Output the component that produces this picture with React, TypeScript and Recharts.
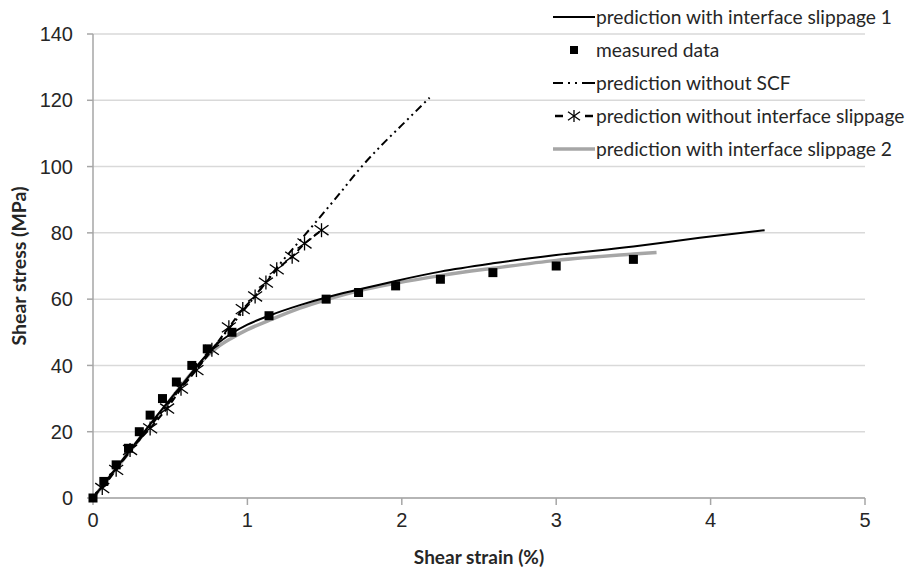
import { CartesianGrid, ComposedChart, Legend, Line, Scatter, XAxis, YAxis } from 'recharts';

const xTicks = [0, 1, 2, 3, 4, 5];
const yTicks = [0, 20, 40, 60, 80, 100, 120, 140];

// measured data (squares)
const measuredX = [0, 0.07, 0.15, 0.23, 0.3, 0.37, 0.45, 0.54, 0.64, 0.74, 0.9, 1.14, 1.51, 1.72, 1.96, 2.25, 2.59, 3.0, 3.5];
const measuredY = [0, 5, 10, 15, 20, 25, 30, 35, 40, 45, 50, 55, 60, 62, 64, 66, 68, 70, 72];

// prediction with interface slippage 1 (black)
const slip1X = [0, 0.2, 0.4, 0.6, 0.7, 0.8, 0.9, 1.0, 1.14, 1.34, 1.51, 1.72, 1.96, 2.25, 2.59, 3.0, 3.5, 3.93, 4.35];
const slip1Y = [0, 12, 24, 35.5, 41.3, 46.3, 49.7, 52.3, 55, 58.2, 60.5, 62.9, 65.5, 68.3, 70.8, 73.3, 75.9, 78.5, 80.8];

// prediction with interface slippage 2 (grey)
const slip2X = [0, 0.2, 0.4, 0.6, 0.7, 0.8, 0.9, 1.0, 1.14, 1.34, 1.51, 1.72, 1.96, 2.25, 2.59, 3.0, 3.5, 3.65];
const slip2Y = [0, 11.8, 23.6, 35.5, 41, 45.3, 48.3, 50.8, 53.6, 57.3, 59.8, 62.5, 64.8, 67.1, 69.3, 71.7, 73.6, 74.1];

// prediction without SCF
const noScfX = [0, 0.3, 0.6, 0.8, 1.0, 1.2, 1.42, 1.6, 1.74, 1.87, 2.0, 2.18];
const noScfY = [0, 17.5, 35, 46.5, 58, 70, 82, 92, 100, 106.5, 112.5, 120.8];

// prediction without interface slippage (asterisks)
const noSlipX = [0.06, 0.15, 0.24, 0.37, 0.48, 0.57, 0.67, 0.77, 0.88, 0.97, 1.05, 1.12, 1.19, 1.29, 1.37, 1.48];
const noSlipY = [3, 8.5, 14.5, 21, 27, 33, 38.6, 44.7, 51.5, 57, 60.8, 65, 69, 72.8, 76.8, 80.8];

const zip = (xs: number[], ys: number[]) => xs.map((x, i) => ({ x, y: ys[i] }));

const measured = zip(measuredX, measuredY);
const slip1 = zip(slip1X, slip1Y);
const slip2 = zip(slip2X, slip2Y);
const noScf = zip(noScfX, noScfY);
const noSlip = zip(noSlipX, noSlipY);

const tickStyle = { fill: '#262626', fontSize: 20, fontFamily: 'Liberation Sans, Arial, sans-serif' };
const titleFont = 'Lato, Calibri, sans-serif';
const axisGrey = '#a6a6a6';

function Asterisk({ cx, cy, r = 7 }: { cx: number; cy: number; r?: number }) {
  return (
    <g stroke="#000" strokeWidth={1.3}>
      <line x1={cx - r} y1={cy - r * 0.7} x2={cx + r} y2={cy + r * 0.7} />
      <line x1={cx - r} y1={cy + r * 0.7} x2={cx + r} y2={cy - r * 0.7} />
      <line x1={cx} y1={cy - r} x2={cx} y2={cy + r} />
    </g>
  );
}

const legendRows = [
  { label: 'prediction with interface slippage 1', kind: 'black' },
  { label: 'measured data', kind: 'square' },
  { label: 'prediction without SCF', kind: 'scf' },
  { label: 'prediction without interface slippage', kind: 'star' },
  { label: 'prediction with interface slippage 2', kind: 'grey' },
];

function LegendSample({ kind }: { kind: string }) {
  return (
    <svg width={47} height={20} style={{ flex: 'none' }}>
      {kind === 'black' && <line x1={5} y1={10} x2={47} y2={10} stroke="#000" strokeWidth={2} />}
      {kind === 'grey' && <line x1={5} y1={10} x2={47} y2={10} stroke={axisGrey} strokeWidth={3.5} />}
      {kind === 'square' && <rect x={22} y={6} width={8} height={8} fill="#000" />}
      {kind === 'scf' && (
        <line x1={5} y1={10} x2={47} y2={10} stroke="#000" strokeWidth={2} strokeDasharray="10 5 2 5 2 5 14" />
      )}
      {kind === 'star' && (
        <g>
          <line x1={7} y1={10} x2={15} y2={10} stroke="#000" strokeWidth={2.5} />
          <line x1={37} y1={10} x2={45} y2={10} stroke="#000" strokeWidth={2.5} />
          <Asterisk cx={26} cy={10} r={6} />
        </g>
      )}
    </svg>
  );
}

function LegendBox() {
  return (
    <div style={{ fontFamily: titleFont, fontSize: 19.2, color: '#262626' }}>
      {legendRows.map((row) => (
        <div key={row.label} style={{ display: 'flex', alignItems: 'center', height: 33, whiteSpace: 'nowrap' }}>
          <LegendSample kind={row.kind} />
          <span style={{ marginLeft: 1 }}>{row.label}</span>
        </div>
      ))}
    </div>
  );
}

export default function App() {
  return (
    <div style={{ position: 'absolute', left: 0, top: 0, width: 923, height: 575, background: '#fff' }}>
      <ComposedChart width={923} height={575} margin={{ top: 34, right: 58, bottom: 0, left: 0 }}>
        <CartesianGrid vertical={false} stroke="#d9d9d9" strokeWidth={1.5} />
        <XAxis
          type="number"
          dataKey="x"
          domain={[0, 5]}
          ticks={xTicks}
          height={77}
          stroke={axisGrey}
          strokeWidth={1.5}
          tickSize={7}
          tickMargin={8}
          tick={tickStyle}
          label={{
            content: () => (
              <text
                x={479}
                y={556}
                textAnchor="middle"
                dominantBaseline="central"
                fontFamily={titleFont}
                fontWeight="bold"
                fontSize={19}
                fill="#262626"
              >
                Shear strain (%)
              </text>
            ),
          }}
        />
        <YAxis
          type="number"
          dataKey="y"
          domain={[0, 140]}
          ticks={yTicks}
          width={93}
          stroke={axisGrey}
          strokeWidth={1.5}
          tickSize={6}
          tickMargin={14}
          tick={tickStyle}
          label={{
            content: () => (
              <text
                x={18}
                y={266}
                transform="rotate(-90 18 266)"
                textAnchor="middle"
                dominantBaseline="central"
                fontFamily={titleFont}
                fontWeight="bold"
                fontSize={19.5}
                fill="#262626"
              >
                Shear stress (MPa)
              </text>
            ),
          }}
        />
        <Legend
          layout="vertical"
          align="center"
          verticalAlign="middle"
          content={() => <LegendBox />}
          wrapperStyle={{ top: 0, left: 548, width: 375 }}
        />
        <Line
          data={slip2}
          dataKey="y"
          type="monotone"
          stroke={axisGrey}
          strokeWidth={3.5}
          dot={false}
          activeDot={false}
          isAnimationActive={false}
        />
        <Line
          data={slip1}
          dataKey="y"
          type="monotone"
          stroke="#000"
          strokeWidth={2}
          dot={false}
          activeDot={false}
          isAnimationActive={false}
        />
        <Line
          data={noScf}
          dataKey="y"
          type="monotone"
          stroke="#000"
          strokeWidth={2}
          strokeDasharray="8 4 2 4 2 4"
          dot={false}
          activeDot={false}
          isAnimationActive={false}
        />
        <Line
          data={noSlip}
          dataKey="y"
          type="linear"
          stroke="#000"
          strokeWidth={2}
          strokeDasharray="7 4"
          dot={(p: any) => <Asterisk key={`ast-${p.index}`} cx={p.cx} cy={p.cy} />}
          activeDot={false}
          isAnimationActive={false}
        />
        <Scatter
          data={measured}
          dataKey="y"
          fill="#000"
          isAnimationActive={false}
          shape={(p: any) => <rect x={p.cx - 4.5} y={p.cy - 4.5} width={9} height={9} fill="#000" />}
        />
      </ComposedChart>
    </div>
  );
}
